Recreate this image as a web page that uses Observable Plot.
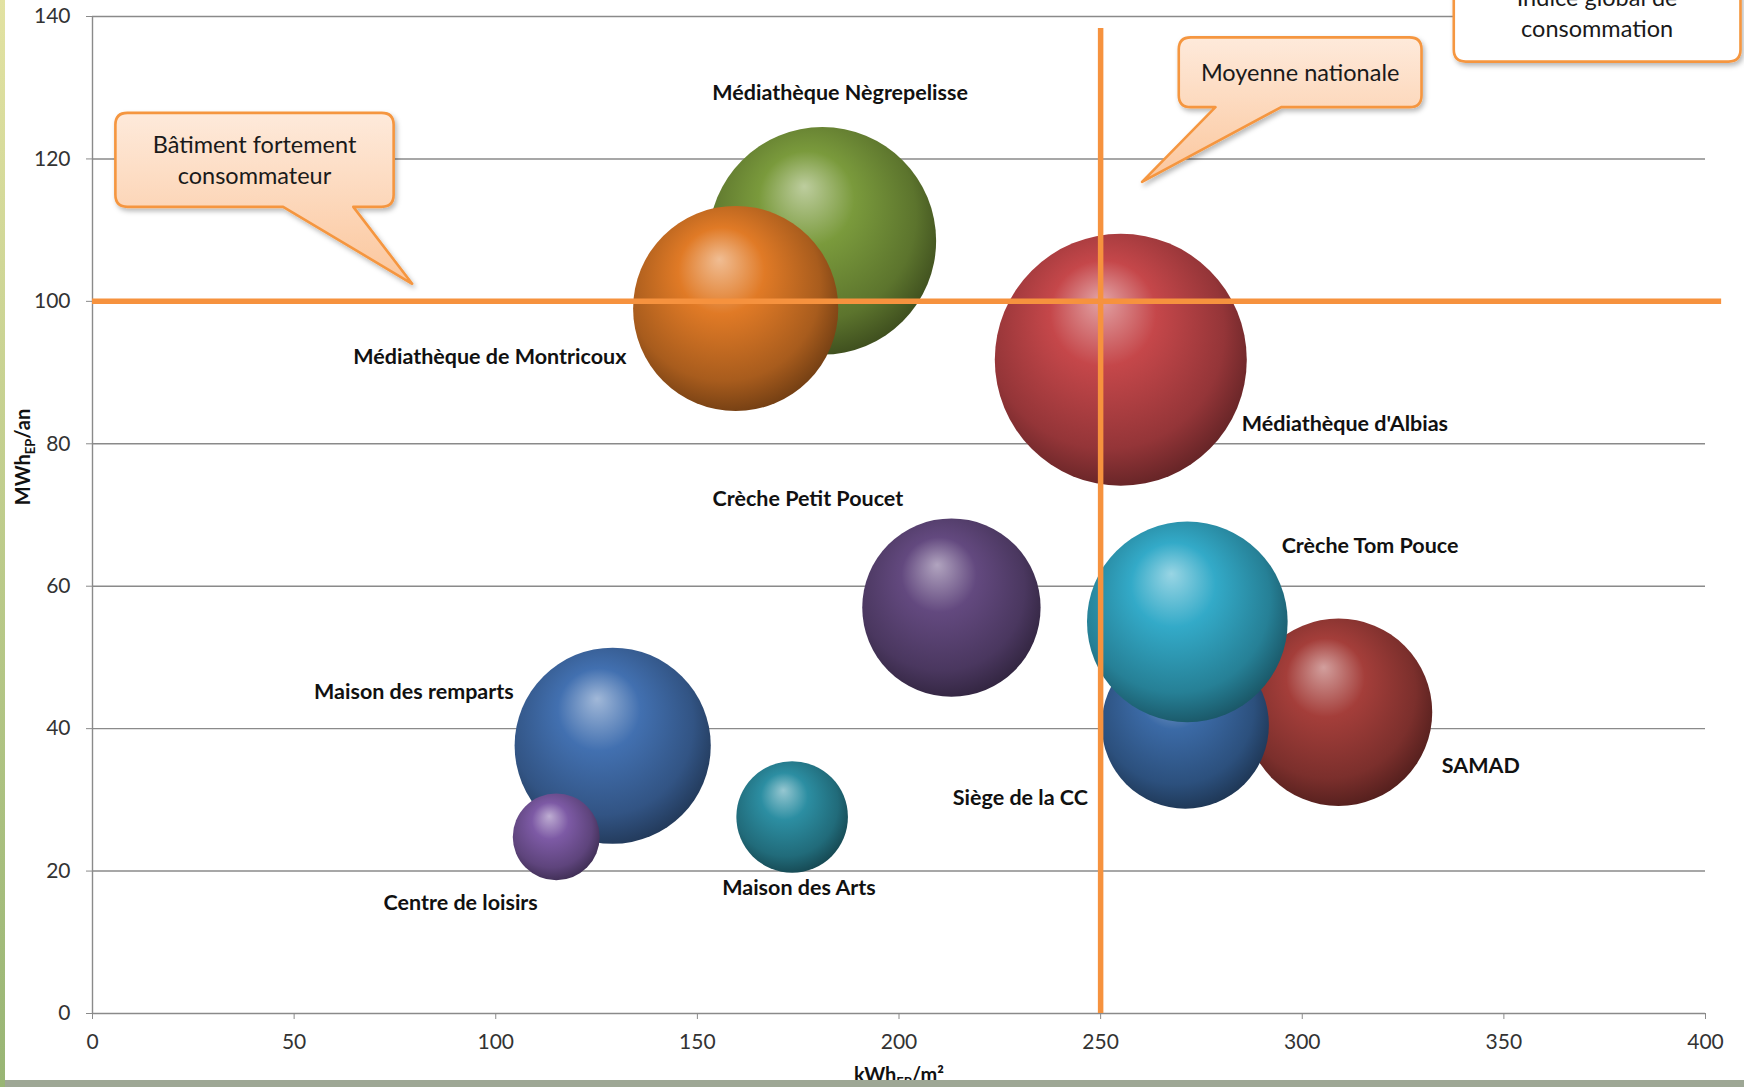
<!DOCTYPE html>
<html><head><meta charset="utf-8">
<script src="https://cdn.jsdelivr.net/npm/d3@7"></script>
<script src="https://cdn.jsdelivr.net/npm/@observablehq/plot@0.6"></script>
<style>
body{margin:0;background:#fff;overflow:hidden}
#wrap{position:relative;width:1744px;height:1087px;background:#fff}
#wrap svg{position:absolute;left:0;top:0;overflow:visible}
</style></head><body><div id="wrap"></div>
<svg width="0" height="0" style="position:absolute"><defs id="defs"></defs></svg>
<script>
// ---- data (draw order) ----
const buildings = ["Médiathèque Nègrepelisse", "Médiathèque de Montricoux", "Médiathèque d'Albias", "Crèche Petit Poucet", "SAMAD", "Siège de la CC", "Crèche Tom Pouce", "Maison des remparts", "Centre de loisirs", "Maison des Arts"];
const kwhPerM2 = [181, 159.5, 255, 213, 309, 271, 271.5, 129, 115, 173.5];
const mwhPerYear = [108.5, 99, 91.8, 57, 42.3, 40.5, 55, 37.6, 24.8, 27.6];
const bubbleSize = [81.5, 66.3, 100, 50.1, 55.3, 44, 63.4, 60.6, 11.9, 19.6];
const bubbleColors = ["#7a9a3c", "#e07a26", "#c5474a", "#63497f", "#a43e3a", "#3b6aa6", "#33aac8", "#4270b0", "#7d5aa5", "#2c8ea2"];
const labelX = [185.4, 132.4, 285, 177.4, 334.6, 230.1, 294.9, 79.7, 91.3, 175.2];
const labelY = [129.2, 92.2, 82.7, 72.3, 34.8, 30.3, 65.6, 45.1, 15.5, 17.6];
const labelAnchor = ["middle", "end", "start", "middle", "start", "middle", "start", "middle", "middle", "middle"];

const xTicks = [0, 50, 100, 150, 200, 250, 300, 350, 400];
const yTicks = [0, 20, 40, 60, 80, 100, 120, 140];
const nationalAverageX = 250;
const highConsumptionY = 100;

const calloutLines = [["Bâtiment fortement", "consommateur"], ["Moyenne nationale"], ["Indice global de", "consommation"]];
const calloutBoxX0 = [5.8, 269.5, 337.7];
const calloutBoxX1 = [74.8, 329.7, 408.8];
const calloutBoxYTop = [126.4, 137.0, 147.3];
const calloutBoxYBottom = [113.2, 127.2, 133.6];
const calloutTailBase0 = [47.4, 278.6, null];
const calloutTailBase1 = [64.8, 294.9, null];
const calloutTipX = [79.4, 260.4, null];
const calloutTipY = [102.4, 116.7, null];
const calloutFill = ["url(#peach)", "url(#peach)", "#ffffff"];

// ---- gradients ----
const defs = d3.select("#defs");
bubbleColors.forEach((c, i) => {
  const g = defs.append("radialGradient").attr("id", "g" + i)
    .attr("cx", 0.45).attr("cy", 0.42).attr("r", 0.6).attr("fx", 0.42).attr("fy", 0.26);
  g.append("stop").attr("offset", "0%").attr("stop-color", d3.interpolateRgb(c, "#ffffff")(0.5));
  g.append("stop").attr("offset", "35%").attr("stop-color", c);
  g.append("stop").attr("offset", "78%").attr("stop-color", d3.color(c).darker(0.8).formatHex());
  g.append("stop").attr("offset", "100%").attr("stop-color", d3.color(c).darker(1.9).formatHex());
});
const pg = defs.append("linearGradient").attr("id", "peach").attr("x1", 0).attr("y1", 0).attr("x2", 0).attr("y2", 1);
pg.append("stop").attr("offset", "0%").attr("stop-color", "#feeadb");
pg.append("stop").attr("offset", "100%").attr("stop-color", "#fbc69c");
const sh = defs.append("filter").attr("id", "shadow").attr("x", "-20%").attr("y", "-20%").attr("width", "140%").attr("height", "140%");
sh.append("feDropShadow").attr("dx", 2).attr("dy", 3).attr("stdDeviation", 2.5).attr("flood-color", "#000").attr("flood-opacity", 0.28);
const lg = defs.append("linearGradient").attr("id", "leftband").attr("x1", 0).attr("y1", 0).attr("x2", 0).attr("y2", 1);
lg.append("stop").attr("offset", "0%").attr("stop-color", "#e2e2a2");
lg.append("stop").attr("offset", "100%").attr("stop-color", "#98b574");

const data = buildings.map((name, i) => ({
  name, x: kwhPerM2[i], y: mwhPerYear[i], size: bubbleSize[i], fill: "url(#g" + i + ")",
  lx: labelX[i], ly: labelY[i], anchor: labelAnchor[i]
}));

const orange = "#f6923e";
const labelMarks = ["start", "middle", "end"].map(a => Plot.text(data, {
  filter: d => d.anchor === a, x: "lx", y: "ly", text: "name", textAnchor: a,
  fontWeight: "bold", fontSize: 21.5, fill: "#111"
}));

const plot = Plot.plot({
  width: 1744, height: 1087,
  marginLeft: 92, marginRight: 39, marginTop: 16, marginBottom: 74,
  x: {domain: [0, 400]},
  y: {domain: [0, 140]},
  r: {domain: [0, 100], range: [0, 126]},
  color: {type: "identity"},
  style: {fontFamily: "Lato, 'Open Sans', sans-serif", fontSize: "21px", color: "#333", background: "transparent", overflow: "visible"},
  marks: [
    Plot.ruleY(yTicks, {stroke: "#8a8a8a", strokeWidth: 1.4}),
    Plot.ruleX([0], {y1: 0, y2: 140, stroke: "#8a8a8a", strokeWidth: 1.4}),
    Plot.axisX({ticks: xTicks, tickSize: 6, tickPadding: 15, stroke: "#8a8a8a", label: null, fill: "#333"}),
    Plot.axisY({ticks: yTicks, tickSize: 6, tickPadding: 16, stroke: "#8a8a8a", label: null, fill: "#333"}),
    Plot.dot(data, {x: "x", y: "y", r: "size", fill: "fill", sort: null}),
    Plot.ruleY([highConsumptionY], {x1: 0, x2: 404, stroke: orange, strokeWidth: 5.5}),
    Plot.ruleX([nationalAverageX], {y1: 0, y2: 138.3, stroke: orange, strokeWidth: 5.5}),
    ...labelMarks
  ]
});
document.getElementById("wrap").append(plot);

const sx = plot.scale("x"), sy = plot.scale("y");
const svg = d3.select(plot);

// callouts
calloutLines.forEach((lines, i) => {
  const x0 = sx.apply(calloutBoxX0[i]), x1 = sx.apply(calloutBoxX1[i]);
  const y0 = sy.apply(calloutBoxYTop[i]), y1 = sy.apply(calloutBoxYBottom[i]);
  const r = 12;
  let p = `M${x0 + r},${y0} H${x1 - r} Q${x1},${y0} ${x1},${y0 + r} V${y1 - r} Q${x1},${y1} ${x1 - r},${y1} `;
  if (calloutTipX[i] != null) {
    p += `H${sx.apply(calloutTailBase1[i])} L${sx.apply(calloutTipX[i])},${sy.apply(calloutTipY[i])} L${sx.apply(calloutTailBase0[i])},${y1} `;
  }
  p += `H${x0 + r} Q${x0},${y1} ${x0},${y1 - r} V${y0 + r} Q${x0},${y0} ${x0 + r},${y0} Z`;
  svg.append("path").attr("d", p).attr("fill", calloutFill[i]).attr("stroke", "#f5963f")
    .attr("stroke-width", 2.6).attr("stroke-linejoin", "round").attr("filter", "url(#shadow)");
  const cx = (x0 + x1) / 2, cy = (y0 + y1) / 2, lh = 31;
  lines.forEach((t, j) => {
    svg.append("text").attr("x", cx).attr("y", cy + (j - (lines.length - 1) / 2) * lh)
      .attr("text-anchor", "middle").attr("dominant-baseline", "central")
      .attr("font-family", "Lato, 'Open Sans', sans-serif").attr("font-size", 23.5).attr("fill", "#1a1a1a").text(t);
  });
});

// axis titles with subscripts
const yt = svg.append("text").attr("transform", "translate(30,457) rotate(-90)").attr("text-anchor", "middle")
  .attr("font-family", "Lato, sans-serif").attr("font-weight", "bold").attr("font-size", 20).attr("fill", "#111");
yt.append("tspan").text("MWh");
yt.append("tspan").attr("font-size", 13).attr("dy", 5).text("EP");
yt.append("tspan").attr("dy", -5).text("/an");

const xt = svg.append("text").attr("x", 899).attr("y", 1082).attr("text-anchor", "middle")
  .attr("font-family", "Lato, sans-serif").attr("font-weight", "bold").attr("font-size", 20).attr("fill", "#111");
xt.append("tspan").text("kWh");
xt.append("tspan").attr("font-size", 13).attr("dy", 5).text("EP");
xt.append("tspan").attr("dy", -5).text("/m²");

// frame bands
svg.append("rect").attr("x", 0).attr("y", 1080).attr("width", 1744).attr("height", 7).attr("fill", "#9ea795");
svg.append("rect").attr("x", 0).attr("y", 0).attr("width", 5).attr("height", 1087).attr("fill", "url(#leftband)");
</script></body></html>
